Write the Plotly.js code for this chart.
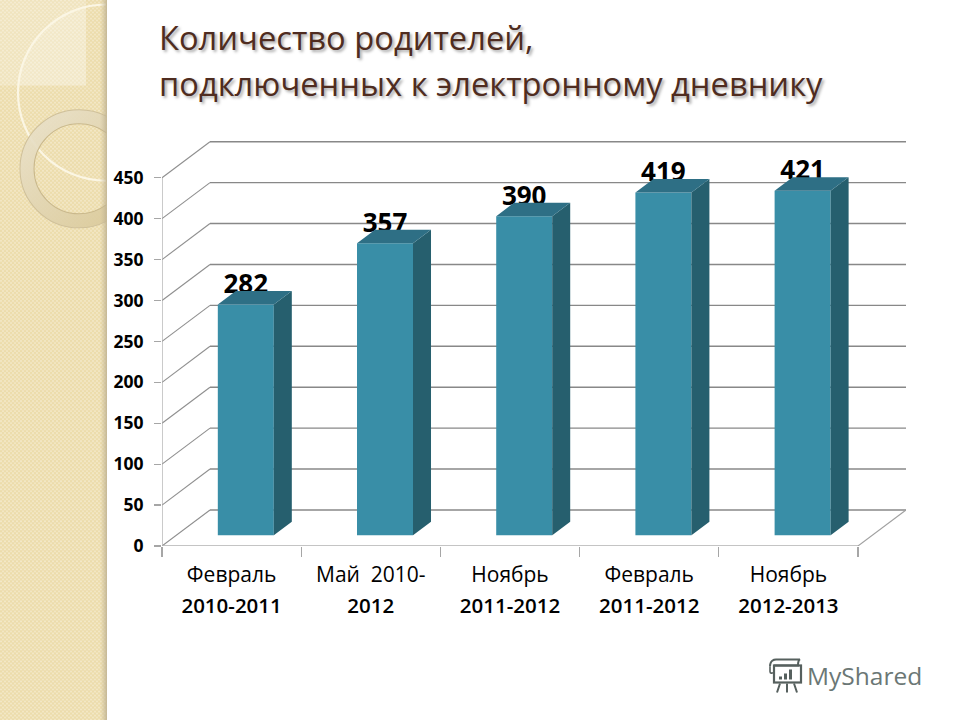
<!DOCTYPE html>
<html><head><meta charset="utf-8">
<script src="https://cdn.plot.ly/plotly-3.0.1.min.js"></script>
<style>html,body{margin:0;padding:0;background:#fff}#c{width:960px;height:720px}</style>
</head><body><div id="c"></div>
<script>
const categoryFirstLines = ['Февраль', 'Май  2010-', 'Ноябрь', 'Февраль', 'Ноябрь'];
const categorySecondLines = ['2010-2011', '2012', '2011-2012', '2011-2012', '2012-2013'];
const values = [282, 357, 390, 419, 421];
const yTicks = [0, 50, 100, 150, 200, 250, 300, 350, 400, 450];

// pixel frame of the front plane
const L = 162, R = 906, T = 141.3, B = 545.7;
const catPx = 139.2, unitPx = 367.7 / 450;
const depthX = 48 / catPx, depthY = 36 / unitPx;   // full chart depth in data units
const barD0 = 0.296, barD1 = 0.671, barW = 56 / catPx;
const idx = values.map((_, i) => i);
const px = p => (p - L) / (R - L), py = p => 1 - (p - T) / (B - T);

const barLeft = i => i + barD0 * depthX - barW / 2;
const barBase = barD0 * depthY;
const dd = barD1 - barD0;
const labelLift = 6;

const sideX = [], sideY = [], topX = [], topY = [];
idx.forEach(i => {
  const xl = barLeft(i), xr = xl + barW, v = values[i] + barBase;
  sideX.push(xr, xr + dd * depthX, xr + dd * depthX, xr, xr, null);
  sideY.push(barBase, barBase + dd * depthY, v + dd * depthY, v, barBase, null);
  topX.push(xl, xr, xr + dd * depthX, xl + dd * depthX, xl, null);
  topY.push(v, v, v + dd * depthY, v + dd * depthY, v, null);
});

const xL = -0.5, xE = 4.5;
const lineShape = (x0, y0, x1, y1, color, w) => ({type: 'line', xref: 'x', yref: 'y', x0, y0, x1, y1, layer: 'below', line: {color, width: w}});
const shapes = [];
yTicks.forEach(v => {
  shapes.push(lineShape(xL, v, xL + depthX, v + depthY, '#8f8f8f', 1.1));
  shapes.push(lineShape(xL + depthX, v + depthY, xE + depthX, v + depthY, '#888888', 1.4));
});
shapes.push(lineShape(xL, 0, xL, 450, '#a6a6a6', 1.2));
shapes.push(lineShape(xL, 0, xE, 0, '#b0b0b0', 1.4));
shapes.push(lineShape(xE, 0, xE + depthX, depthY, '#a0a0a0', 1.1));

const stripSvg = `<svg xmlns="http://www.w3.org/2000/svg" width="107" height="720" viewBox="0 0 107 720">
<defs>
<pattern id="p" width="4" height="4" patternUnits="userSpaceOnUse"><rect width="4" height="4" fill="#ecdcab"/><circle cx="1" cy="1" r="1" fill="#f4e9c8"/><circle cx="3" cy="3" r="1" fill="#f4e9c8"/></pattern>
<linearGradient id="e" x1="0" x2="1" y1="0" y2="0"><stop offset="0" stop-color="#c9bd9b" stop-opacity="0"/><stop offset="1" stop-color="#bdb090" stop-opacity=".85"/></linearGradient>
<linearGradient id="r" x1="0" x2="1" y1="0" y2="1"><stop offset="0" stop-color="#e9e1cb"/><stop offset="1" stop-color="#d9c897"/></linearGradient>
<clipPath id="c"><rect width="106" height="720"/></clipPath>
<clipPath id="sq"><rect width="86" height="86"/></clipPath>
</defs>
<rect width="107" height="720" fill="url(#p)"/>
<g clip-path="url(#c)">
<rect width="86" height="86" fill="#fff" fill-opacity=".22"/>
<circle cx="106" cy="93" r="88" fill="#fff" fill-opacity=".16" clip-path="url(#sq)"/>
<circle cx="106" cy="93" r="88" fill="none" stroke="#fbf6e4" stroke-width="2.2"/>
<circle cx="79" cy="169" r="52" fill="none" stroke="url(#r)" stroke-width="14" stroke-opacity=".9"/>
<circle cx="79" cy="169" r="59" fill="none" stroke="#cfc09a" stroke-width="1"/>
<circle cx="79" cy="169" r="45" fill="none" stroke="#c9b88c" stroke-width="1"/>
</g>
<rect x="100" width="7" height="720" fill="url(#e)"/>
</svg>`;

const iconSvg = `<svg xmlns="http://www.w3.org/2000/svg" width="36" height="36" viewBox="0 0 36 36" fill="none" stroke="#56605e">
<path d="M3 9 C3 3 7 2 9 2 H33 C31 3 31 6 31 8 H7" stroke-width="2"/>
<path d="M3 9 V14 C3 16 5 16 6 15" stroke-width="1.6"/>
<rect x="7" y="8" width="27" height="17" stroke-width="2.2"/>
<g fill="#56605e" stroke="none"><rect x="12" y="19" width="3" height="3"/><rect x="17" y="16" width="3" height="6"/><rect x="22" y="12" width="3" height="10"/></g>
<path d="M13 26 L10 35 M20 26 V35 M27 26 L30 35" stroke-width="2"/>
</svg>`;
const uri = s => 'data:image/svg+xml;charset=utf-8,' + encodeURIComponent(s);

const tickSpan = t => `<span style="font-size:21px">${t}</span>`;
const tickSpanBold = t => `<span style="font-size:20.5px;font-weight:600">${t}</span>`;
const titleSpan = t => `<span style="font-size:32.7px">${t}</span>`;
const traces = [
  {type: 'bar', x: idx.map(i => i + barD0 * depthX), y: values, base: barBase, width: barW,
   marker: {color: '#398EA7', line: {width: 0}}, hoverinfo: 'skip', showlegend: false},
  {type: 'scatter', mode: 'text', x: idx.map(i => i + barD0 * depthX), y: values.map(v => v + barBase + labelLift),
   text: values.map(String), textposition: 'top center', cliponaxis: false,
   textfont: {family: '"Open Sans", sans-serif', size: 26, weight: 700, color: '#000'}, hoverinfo: 'skip', showlegend: false},
  {type: 'scatter', mode: 'none', x: sideX, y: sideY, fill: 'toself', fillcolor: '#265F6E', hoverinfo: 'skip', showlegend: false},
  {type: 'scatter', mode: 'none', x: topX, y: topY, fill: 'toself', fillcolor: '#2E6F85', hoverinfo: 'skip', showlegend: false}
];

const layout = {
  width: 960, height: 720,
  margin: {l: L, r: 960 - R, t: T, b: 720 - B, pad: 0},
  paper_bgcolor: '#ffffff', plot_bgcolor: 'rgba(0,0,0,0)',
  showlegend: false, barmode: 'overlay', hovermode: false,
  title: {
    text: titleSpan('Количество родителей,') + '<br>' + titleSpan('подключенных к электронному дневнику'),
    font: {family: '"Open Sans", sans-serif', size: 35.4, color: '#4f2c20', shadow: '2px 2px 3px rgba(0,0,0,0.35)'},
    xref: 'container', x: 159 / 960, xanchor: 'left', yref: 'container', y: 1 - 50 / 720, yanchor: 'middle', pad: {t: 0, b: 0, l: 0, r: 0}
  },
  xaxis: {
    type: 'linear', range: [xL, xL + (R - L) / catPx], fixedrange: true, showgrid: false, zeroline: false, showline: false,
    tickmode: 'array', tickvals: idx,
    ticktext: idx.map(i => tickSpan(categoryFirstLines[i]) + '<br>' + tickSpanBold(categorySecondLines[i])),
    ticks: '', tickfont: {family: '"Open Sans", sans-serif', size: 24, color: '#000'}, ticklabelstandoff: 11,
    minor: {tickmode: 'array', tickvals: [-0.5, 0.5, 1.5, 2.5, 3.5, 4.5], ticks: 'outside', ticklen: 10, tickwidth: 1.2, tickcolor: '#a6a6a6', showgrid: false}
  },
  yaxis: {
    range: [0, (B - T) / unitPx], fixedrange: true, showgrid: false, zeroline: false, showline: false,
    tickmode: 'array', tickvals: yTicks, ticktext: yTicks.map(String),
    ticks: 'outside', ticklen: 7, tickwidth: 1.2, tickcolor: '#a6a6a6', ticklabelstandoff: 7,
    tickfont: {family: '"Open Sans", sans-serif', size: 17.5, weight: 700, color: '#000'}
  },
  shapes,
  images: [
    {source: uri(stripSvg), xref: 'paper', yref: 'paper', x: px(0), y: py(0), sizex: 107 / (R - L), sizey: 720 / (B - T), xanchor: 'left', yanchor: 'top', sizing: 'stretch', layer: 'below'},
    {source: uri(iconSvg), xref: 'paper', yref: 'paper', x: px(767), y: py(657), sizex: 36 / (R - L), sizey: 36 / (B - T), xanchor: 'left', yanchor: 'top', sizing: 'stretch', layer: 'below'}
  ],
  annotations: [
    {text: 'MyShared', xref: 'paper', yref: 'paper', x: px(805), y: py(675), xanchor: 'left', yanchor: 'middle', showarrow: false,
     font: {family: '"Open Sans", sans-serif', size: 24.5, color: '#6b7775'}}
  ]
};
Plotly.newPlot('c', traces, layout, {displayModeBar: false, staticPlot: true});
</script></body></html>
